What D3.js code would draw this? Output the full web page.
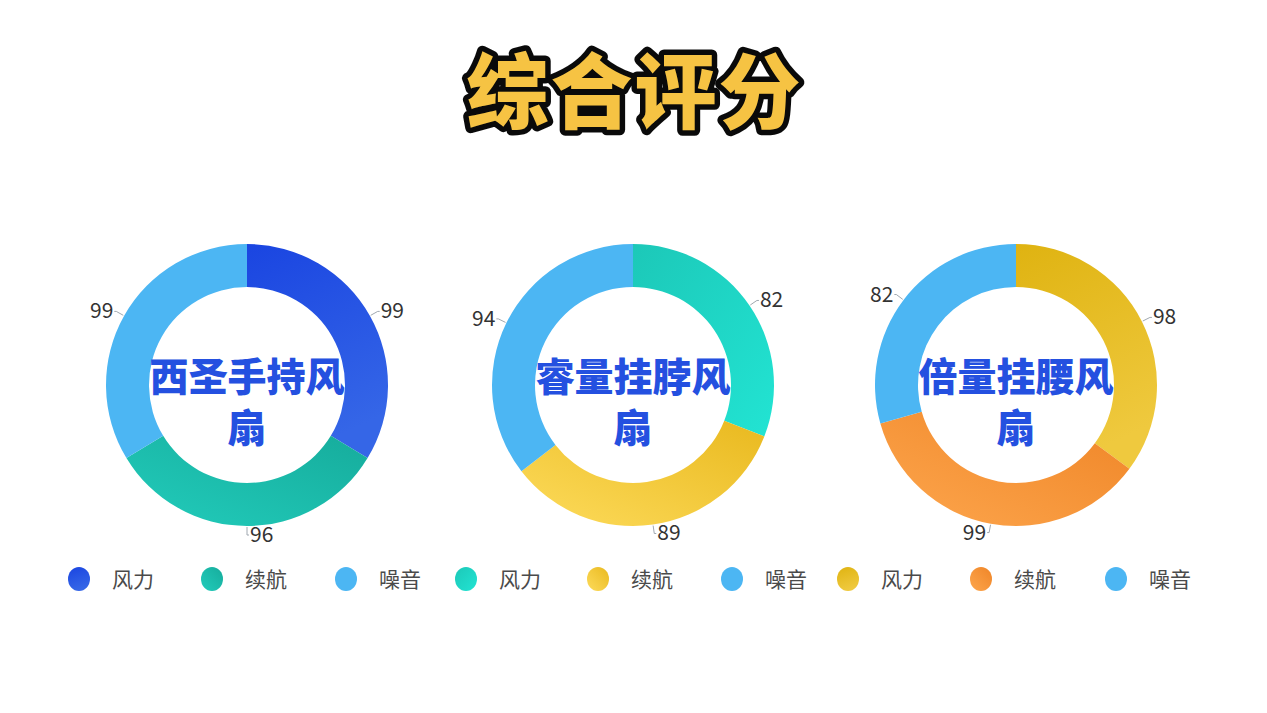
<!DOCTYPE html>
<html>
<head>
<meta charset="utf-8">
<script src="https://cdn.jsdelivr.net/npm/d3@7/dist/d3.min.js"></script>
<style>
  html, body { margin: 0; padding: 0; background: #ffffff; }
  svg { display: block; }
</style>
</head>
<body>
<svg id="chart" width="1267" height="713"></svg>
<script>
// ---------------- data ----------------
const title = "综合评分";
const products = ["西圣手持风扇", "睿量挂脖风扇", "倍量挂腰风扇"];
const categories = ["风力", "续航", "噪音"];
const scoresXisheng = [99, 96, 99];
const scoresRuiliang = [82, 89, 94];
const scoresBeiliang = [98, 99, 82];
const seriesValues = [scoresXisheng, scoresRuiliang, scoresBeiliang];

// ---------------- styles / layout ----------------
const W = 1267, H = 713;
const centersX = [247, 633, 1016];
const centerY = 385;
const outerR = 141, innerR = 98;
const sliceColors = [
  [ {c:["#1a45e1", "#3566e7"], d:[0,0,0.3,1]}, {c:["#16ac9c", "#22ccbb"], d:[1,0,0,1]}, {c:["#4cb6f3", "#4cb6f3"], d:[0,0,0,1]} ],
  [ {c:["#1cc8b8", "#22e4d3"], d:[0,0,1,1]}, {c:["#e9b91f", "#fddb5b"], d:[1,0,0,1]}, {c:["#4cb6f3", "#4cb6f3"], d:[0,0,0,1]} ],
  [ {c:["#dfb311", "#efc93e"], d:[0,0,0.3,1]}, {c:["#ef8527", "#fda64d"], d:[1,0,0,1]}, {c:["#4cb6f3", "#4cb6f3"], d:[0,0,0,1]} ]
];
const legendX = [79, 212, 346, 466, 598, 732, 848, 981, 1116];
const legendY = 579;

const svg = d3.select("#chart");
svg.append("rect").attr("width", W).attr("height", H).attr("fill", "#ffffff");
const defs = svg.append("defs");

sliceColors.forEach((row, pi) => row.forEach((s, ci) => {
  const g = defs.append("linearGradient").attr("id", `g${pi}_${ci}`)
    .attr("x1", s.d[0]).attr("y1", s.d[1]).attr("x2", s.d[2]).attr("y2", s.d[3]);
  g.append("stop").attr("offset", 0).attr("stop-color", s.c[0]);
  g.append("stop").attr("offset", 1).attr("stop-color", s.c[1]);
}));

// title
svg.append("text")
  .attr("x", W / 2 + 1).attr("y", 86)
  .attr("text-anchor", "middle").attr("dominant-baseline", "central")
  .attr("font-family", "'Noto Sans CJK SC', sans-serif")
  .attr("font-weight", 900).attr("font-size", 82)
  .attr("letter-spacing", 2)
  .attr("fill", "#f6c343").attr("stroke", "#0a0a0a").attr("stroke-width", 11)
  .attr("stroke-linejoin", "round").attr("paint-order", "stroke")
  .text(title);

const pie = d3.pie().sort(null).value(d => d);
const arc = d3.arc().innerRadius(innerR).outerRadius(outerR);

seriesValues.forEach((vals, pi) => {
  const g = svg.append("g").attr("transform", `translate(${centersX[pi]},${centerY})`);
  const arcs = pie(vals);
  g.selectAll("path.slice").data(arcs).enter().append("path")
    .attr("class", "slice")
    .attr("d", arc)
    .attr("fill", (d, i) => `url(#g${pi}_${i})`);

  arcs.forEach(a => {
    const m = (a.startAngle + a.endAngle) / 2;
    const sx = Math.sin(m), sy = -Math.cos(m);
    const side = sx >= -1e-9 ? 1 : -1;
    const p1 = [sx * (outerR + 1), sy * (outerR + 1)];
    const p2 = [sx * (outerR + 9), sy * (outerR + 9)];
    const p3 = [p2[0] + side * 2, p2[1]];
    g.append("polyline")
      .attr("points", [p1, p2, p3].map(p => p.join(",")).join(" "))
      .attr("fill", "none").attr("stroke", "#a0a8b0").attr("stroke-width", 1);
    g.append("text")
      .attr("x", p3[0] + side * 1).attr("y", p3[1] - 2)
      .attr("text-anchor", side > 0 ? "start" : "end")
      .attr("dominant-baseline", "central")
      .attr("font-family", "'Noto Sans CJK SC', sans-serif")
      .attr("font-size", 21).attr("fill", "#333333")
      .text(a.data);
  });

  // center text (two lines, one text element)
  const name = products[pi];
  const t = g.append("text")
    .attr("text-anchor", "middle")
    .attr("font-family", "'Noto Sans CJK SC', sans-serif")
    .attr("font-weight", 900).attr("font-size", 39)
    .attr("fill", "#2450e0");
  t.append("tspan").attr("x", 0).attr("y", 6).text(name.slice(0, 5));
  t.append("tspan").attr("x", 0).attr("y", 57).text(name.slice(5));
});

// legend
const legendItems = [];
seriesValues.forEach((vals, pi) => categories.forEach((c, ci) => legendItems.push({ pi, ci, name: c })));
const lg = svg.append("g");
legendItems.forEach((it, i) => {
  const x = legendX[i];
  lg.append("ellipse").attr("cx", x).attr("cy", legendY).attr("rx", 11).attr("ry", 12)
    .attr("fill", `url(#g${it.pi}_${it.ci})`);
  lg.append("text").attr("x", x + 33).attr("y", legendY - 1)
    .attr("dominant-baseline", "central")
    .attr("font-family", "'Noto Sans CJK SC', sans-serif")
    .attr("font-size", 21).attr("fill", "#4a4a4a")
    .text(it.name);
});
</script>
</body>
</html>
